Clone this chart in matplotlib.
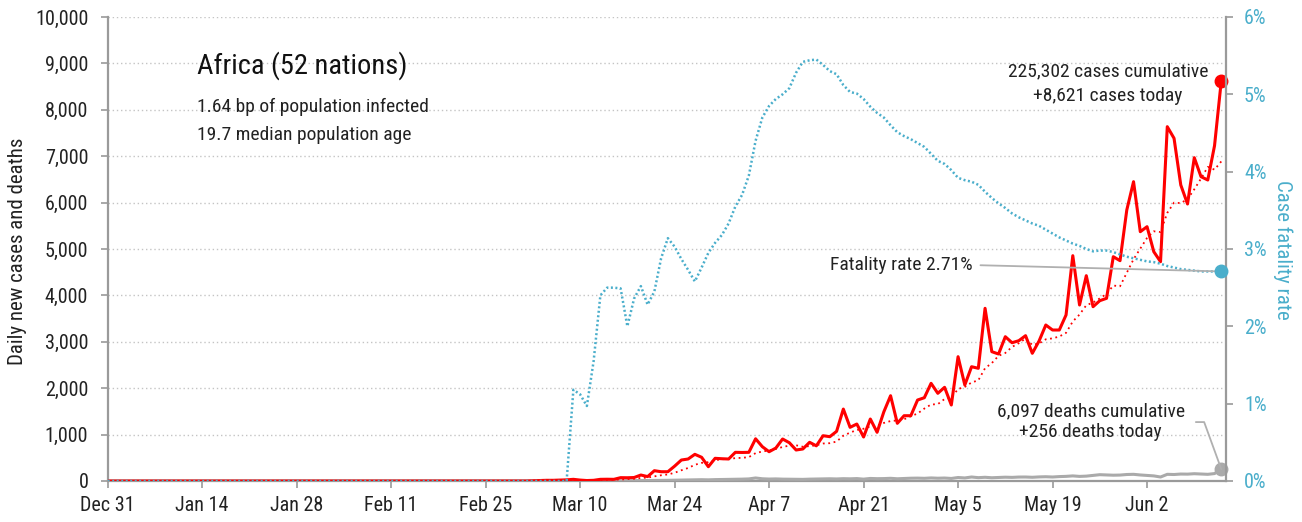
import matplotlib
matplotlib.use("Agg")
import matplotlib.pyplot as plt
import matplotlib.dates as mdates
from matplotlib.ticker import MultipleLocator, FuncFormatter
from matplotlib import font_manager
import pandas as pd

entries = font_manager.fontManager.ttflist
names = {f.name for f in entries}
STRETCH = "normal"
FONT = None
for cand in ["Roboto Condensed", "Liberation Sans Narrow", "Open Sans Condensed",
             "Noto Sans Condensed", "DejaVu Sans Condensed"]:
    if cand in names:
        FONT = cand
        break
if FONT is None:
    cond = [f for f in entries if f.name == "DejaVu Sans" and "ondensed" in f.fname]
    if cond:
        FONT = "DejaVu Sans"
        STRETCH = "condensed"
    else:
        FONT = "Roboto" if "Roboto" in names else "DejaVu Sans"
plt.rcParams["font.family"] = [FONT, "DejaVu Sans"]
plt.rcParams["font.stretch"] = STRETCH

# ---------------- data ----------------
start_date = "2019-12-31"
n_days = 166

# daily new cases (first 63 days zero)
cases = [0] * 63 + [
    5, 10, 15, 15, 20, 25, 36, 20, 10, 15, 36, 38, 36, 72, 70, 75, 129, 95,
    222, 200, 200, 320, 452, 474, 575, 511, 308, 489, 480, 474, 618, 615, 618,
    910, 739, 631, 710, 905, 825, 668, 690, 834, 758, 976, 955, 1070, 1550,
    1157, 1228, 948, 1336, 1050, 1490, 1838, 1243, 1407, 1407, 1745, 1795,
    2105, 1890, 2019, 1638, 2679, 2069, 2463, 2429, 3722, 2787, 2737, 3110,
    2980, 3024, 3132, 2752, 3017, 3362, 3254, 3254, 3578, 4856, 3793, 4425,
    3756, 3886, 3937, 4834, 4748, 5841, 6451, 5373, 5481, 4942, 4726, 7636,
    7386, 6379, 5970, 6968, 6558, 6487, 7226, 8621,
]

# 7-day trend of cases (dotted red)
cases_trend = [0] * 63 + [
    0.7, 2.1, 4.3, 6.4, 9.3, 12.9, 18.0, 20.1, 20.1, 20.1, 23.1, 25.7, 27.3,
    32.4, 39.6, 48.9, 65.1, 73.6, 99.9, 123.3, 141.6, 177.3, 231.1, 280.4,
    349.0, 390.3, 405.7, 447.0, 469.9, 473.0, 493.6, 499.3, 514.6, 600.6,
    636.3, 657.9, 691.6, 732.6, 762.6, 769.7, 738.3, 751.9, 770.0, 808.0,
    815.1, 850.1, 976.1, 1042.9, 1099.1, 1126.3, 1177.7, 1191.3, 1251.3,
    1292.4, 1304.7, 1330.3, 1395.9, 1454.3, 1560.7, 1648.6, 1656.0, 1766.9,
    1799.9, 1981.6, 2027.9, 2123.3, 2169.6, 2431.3, 2541.0, 2698.0, 2759.6,
    2889.7, 2969.9, 3070.3, 2931.7, 2964.6, 3053.9, 3074.4, 3113.6, 3192.7,
    3439.0, 3587.7, 3788.9, 3845.1, 3935.4, 4033.0, 4212.4, 4197.0, 4489.6,
    4779.0, 5010.0, 5237.9, 5381.4, 5366.0, 5778.6, 5999.3, 5989.0, 6074.3,
    6286.7, 6517.6, 6769.1, 6710.6, 6887.0,
]

# daily new deaths (first 68 days zero)
deaths = [0] * 68 + [
    0, 2, 1, 2, 3, 2, 4, 3, 5, 6, 8, 9, 10, 12, 14, 15, 18, 20, 22, 26, 28,
    25, 30, 32, 35, 38, 40, 45, 65, 48, 42, 45, 40, 38, 36, 35, 40, 42, 45,
    48, 44, 50, 47, 52, 40, 55, 50, 52, 58, 48, 55, 60, 62, 58, 66, 60, 64,
    55, 75, 66, 86, 72, 80, 70, 75, 82, 78, 85, 86, 80, 88, 92, 86, 95, 100,
    110, 99, 105, 120, 136, 130, 125, 128, 140, 144, 130, 121, 110, 86, 144,
    140, 150, 148, 157, 150, 144, 160, 256,
]

# case fatality rate, % (right axis)
cfr = [0] * 68 + [
    0, 1.18, 1.12, 0.97, 1.55, 2.40, 2.50, 2.50, 2.49, 2.00, 2.36, 2.52, 2.28,
    2.45, 2.88, 3.14, 3.03, 2.87, 2.73, 2.58, 2.76, 2.95, 3.08, 3.18, 3.33,
    3.55, 3.70, 3.95, 4.40, 4.70, 4.85, 4.94, 5.00, 5.08, 5.28, 5.42, 5.44,
    5.45, 5.38, 5.30, 5.26, 5.12, 5.03, 5.01, 4.94, 4.84, 4.76, 4.70, 4.60,
    4.51, 4.46, 4.42, 4.37, 4.32, 4.23, 4.14, 4.10, 4.02, 3.92, 3.89, 3.87,
    3.83, 3.74, 3.66, 3.59, 3.53, 3.46, 3.41, 3.37, 3.33, 3.30, 3.25, 3.20,
    3.15, 3.11, 3.07, 3.04, 3.00, 2.97, 2.98, 2.98, 2.96, 2.93, 2.90, 2.88,
    2.86, 2.84, 2.83, 2.81, 2.78, 2.76, 2.74, 2.73, 2.72, 2.71, 2.71, 2.71,
    2.71,
]

title = "Africa (52 nations)"
subtitle1 = "1.64 bp of population infected"
subtitle2 = "19.7 median population age"
cases_note = ["225,302 cases cumulative", "+8,621 cases today"]
deaths_note = "6,097 deaths cumulative\n+256 deaths today"
cfr_note = "Fatality rate 2.71%"
left_label = "Daily new cases and deaths"
right_label = "Case fatality rate"

# ---------------- style ----------------
RED = "#ff0000"
BLUE = "#4aaecb"
GREY = "#aaaaaa"
AXIS = "#9a9a9a"
TXT = "#222222"
FS = 14.5
FN = 14

dates = pd.date_range(start_date, periods=n_days, freq="D")
xnum = mdates.date2num(dates)

W, H = 1302, 522
fig = plt.figure(figsize=(W / 100, H / 100), dpi=100)
L, R, T, B = 107.7, 1226, 17, 481
ax = fig.add_axes([L / W, 1 - B / H, (R - L) / W, (B - T) / H])
ax2 = ax.twinx()

ax.set_zorder(1)
ax2.set_zorder(2)
ax2.patch.set_visible(False)

ax.plot(dates, deaths, color=GREY, lw=2.2, zorder=3, solid_joinstyle="round")
ax.plot(dates, cases_trend, color=RED, lw=1.3, linestyle=(0, (1, 2)), zorder=4)
ax.plot(dates, cases, color=RED, lw=2.2, zorder=5, solid_joinstyle="round")
ax2.plot(dates, cfr, color=BLUE, lw=1.8, linestyle=(0, (0.8, 1.0)), zorder=3)

ax.set_xlim(xnum[0], xnum[-1] + 0.7)
ax.set_ylim(0, 10000)
ax2.set_ylim(0, 6)

ax.yaxis.set_major_locator(MultipleLocator(1000))
ax.yaxis.set_major_formatter(FuncFormatter(lambda v, p: f"{v:,.0f}"))
ax2.yaxis.set_major_locator(MultipleLocator(1))
ax2.yaxis.set_major_formatter(FuncFormatter(lambda v, p: f"{v:.0f}%"))
ax.set_xticks(xnum[::14])
ax.xaxis.set_major_formatter(mdates.DateFormatter("%b %-d"))

ax.yaxis.grid(True, color="#c4c4c4", linestyle=(0, (1, 2)), lw=1.0)
ax.xaxis.grid(False)
ax.set_axisbelow(True)

for a in (ax, ax2):
    for s in a.spines.values():
        s.set_visible(False)
ax.spines["left"].set_visible(True)
ax.spines["bottom"].set_visible(True)
ax2.spines["right"].set_visible(True)
for s in (ax.spines["left"], ax.spines["bottom"], ax2.spines["right"]):
    s.set_color(AXIS)
    s.set_linewidth(1.6)

ax.tick_params(axis="y", direction="out", length=5, width=1.2, color=AXIS,
               pad=9, labelsize=FS, labelcolor=TXT)
ax.tick_params(axis="x", direction="out", length=5, width=1.2, color=AXIS,
               pad=6, labelsize=FS, labelcolor=TXT)
ax2.tick_params(axis="y", direction="out", length=5, width=1.2, color=AXIS,
                pad=8, labelsize=FS, labelcolor=BLUE)

fig.text(18 / W, 1 - 251 / H, left_label, rotation=90, ha="center",
         va="center", fontsize=15, color=TXT)
fig.text(1283 / W, 1 - 250 / H, right_label, rotation=270, ha="center",
         va="center", fontsize=15, color=BLUE)

# headline texts
ax.text(0.0799, 0.877, title, transform=ax.transAxes, fontsize=20.5,
        color="#111111", ha="left", va="baseline")
ax.text(0.0799, 0.796, subtitle1, transform=ax.transAxes, fontsize=FN,
        color=TXT, ha="left", va="baseline")
ax.text(0.0799, 0.734, subtitle2, transform=ax.transAxes, fontsize=FN,
        color=TXT, ha="left", va="baseline")

# end markers
ax.plot(xnum[-1], cases[-1], "o", color=RED, ms=9, zorder=7, clip_on=False)
ax.plot(xnum[-1], deaths[-1], "o", color=GREY, ms=9, zorder=7, clip_on=False)
ax2.plot(xnum[-1], cfr[-1], "o", color=BLUE, ms=9, zorder=7, clip_on=False)

# notes
ax.text(0.8945, 0.873, cases_note[0], transform=ax.transAxes, fontsize=FN,
        color=TXT, ha="center", va="baseline")
ax.text(0.8945, 0.819, cases_note[1], transform=ax.transAxes, fontsize=FN,
        color=TXT, ha="center", va="baseline")

ax2.annotate(cfr_note, xy=(xnum[-1], cfr[-1]), xycoords="data",
             xytext=(0.773, 0.4547), textcoords="axes fraction",
             ha="right", va="baseline", fontsize=FN, color=TXT,
             arrowprops=dict(arrowstyle="-", color="#b0b0b0", lw=1.3,
                             relpos=(1, 0.5), shrinkA=4, shrinkB=0))

ax.annotate(deaths_note, xy=(xnum[-1], deaths[-1]), xycoords="data",
            xytext=(0.879, 0.127), textcoords="axes fraction",
            ha="center", va="center", fontsize=FN, color=TXT,
            linespacing=1.2, zorder=8,
            arrowprops=dict(arrowstyle="-", color="#b0b0b0", lw=1.3,
                            relpos=(1, 0.5), shrinkA=6, shrinkB=0,
                            connectionstyle="angle,angleA=0,angleB=110,rad=0"))

fig.savefig("out.png", dpi=100)
